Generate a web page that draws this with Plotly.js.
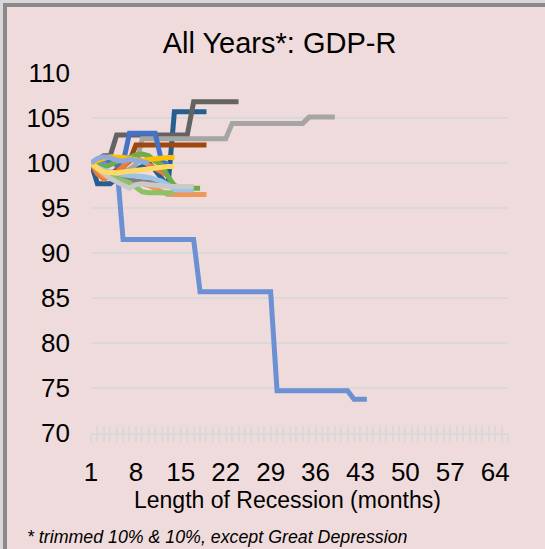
<!DOCTYPE html>
<html>
<head>
<meta charset="utf-8">
<script src="https://cdn.plot.ly/plotly-3.0.1.min.js"></script>
<style>
  html, body { margin: 0; padding: 0; background: #d8d8d8; width: 545px; height: 549px; overflow: hidden; }
  #frame { position: absolute; left: 3px; top: 3px; width: 538px; height: 542px;
           border-left: 4px solid #8a8a8a; border-top: 4px solid #8a8a8a; background: #EFDBDB; }
  #chart { width: 538px; height: 542px; }
</style>
</head>
<body>
<div id="frame"><div id="chart"></div></div>
<script>
// ---- categories (months) ----
const months = [1,2,3,4,5,6,7,8,9,10,11,12,13,14,15,16,17,18,19,20,21,22,23,24,25,26,27,28,29,30,31,32,33,
  34,35,36,37,38,39,40,41,42,43,44,45,46,47,48,49,50,51,52,53,54,55,56,57,58,59,60,61,62,63,64,65,66];
const xTickLabels = [1,8,15,22,29,36,43,50,57,64];
const yTickLabels = [70,75,80,85,90,95,100,105,110];

// ---- series values (index 0 = month 1) ----
const darkBlue = [100,97.7,97.7,97.7,98.3,99,99.2,99.3,99.6,100,99.2,98.3,97.4,105.7,105.7,105.7,105.7,105.7,105.7];
const greatDepression = [100,100,100,100,100,
  91.5,91.5,91.5,91.5,91.5,91.5,91.5,91.5,91.5,91.5,91.5,91.5,
  85.7,85.7,85.7,85.7,85.7,85.7,85.7,85.7,85.7,85.7,85.7,85.7,
  74.7,74.7,74.7,74.7,74.7,74.7,74.7,74.7,74.7,74.7,74.7,74.7,
  73.75,73.75,73.75];
const darkGray = [100,100.4,100.8,100.8,103.1,103.1,103.1,103.1,103.1,103.1,103.1,103.1,103.1,103.1,103.1,103.1,
  106.8,106.8,106.8,106.8,106.8,106.8,106.8,106.8];
const lightGray = [100,99.5,99,98.8,98.8,99,99.3,99.8,
  102.7,102.7,102.7,102.7,102.7,102.7,102.7,102.7,102.7,102.7,102.7,102.7,102.7,102.7,
  104.4,104.4,104.4,104.4,104.4,104.4,104.4,104.4,104.4,104.4,104.4,104.4,
  105.1,105.1,105.1,105.1,105.1];
const brown = [100,99,98.6,98.8,99.2,99.6,100.2,102,102,102,102,102,102,102,102,102,102,102,102];
const blue = [100,100.3,100.5,100.2,99.8,100,103.3,103.3,103.3,103.3,103.3,100.2,99.8];
const orange = [100,98.8,98.2,98.5,99,99.6,100.3,100.6,100.2,99.7,99.3,98.9,98.6];
const lightOrange = [100,99.2,98.6,98.3,98.2,98,97.9,97.8,97.7,97.5,97.2,96.8,96.5,96.5,96.5,96.5,96.5,96.5,96.5];
const green = [100,99.7,99.5,99.8,100.2,100.5,100.6,100.9,101,100.8,100.2,99.8,98.5,97.5,97.3,97.2,97.2,97.2];
const lightGreen = [100,99.5,99,98.6,98.3,98,97.8,97.3,96.8,96.7,96.7,96.7,96.7,96.7];
const midGray = [100,99.6,99.2,98.8,98.5,98.3,98.1,98,97.9,97.9,97.9,98.1];
const lightBlue = [100,99.5,99.2,99,98.9,98.7,98.6,98.6,98.5,98.4,98.2,98,97.6,97.1,97,97,97];
const silver = [100,99.4,98.8,98.3,97.9,97.5,97.2,97.6,97.7,97.6,97.5,97.4,97.4,97.4,97.4,97.4,97.4];
const paleYellow = [100,99.4,99,98.9,98.9,99,99.1,99.2,99.3,99.4,99.5,99.6,99.6,99.6];
const yellow = [100,100.3,100.5,100.7,100.7,100.6,100.5,100.4,100.2,100.4,100.5,100.6,100.6,100.6];
const paleBlue = [100,100.5,100.7,100.6,100.3,100.2,100.4,100.3,100.1,100];

const seriesList = [
  [darkBlue, '#255E91'],
  [greatDepression, '#6C90D4'],
  [darkGray, '#636363'],
  [lightGray, '#A5A5A5'],
  [brown, '#9E480E'],
  [blue, '#4472C4'],
  [orange, '#ED7D31'],
  [lightOrange, '#F1975A'],
  [midGray, '#7F7F7F'],
  [green, '#70AD47'],
  [lightGreen, '#8CC168'],
  [lightBlue, '#9DC3E6'],
  [silver, '#C9C9C9'],
  [paleYellow, '#FFD966'],
  [yellow, '#FFC000'],
  [paleBlue, '#8FAADC']
];

const traces = seriesList.map(([vals, col]) => ({
  type: 'scatter', mode: 'lines',
  x: months.slice(0, vals.length), y: vals,
  line: { color: col, width: 5 },
  hoverinfo: 'skip', showlegend: false
}));

const font = 'Arial, "Liberation Sans", sans-serif';
const grid = '#D9D9D9';

const layout = {
  width: 538, height: 542,
  margin: { l: 84, r: 37, t: 66, b: 116 },
  paper_bgcolor: '#EFDBDB', plot_bgcolor: '#EFDBDB',
  showlegend: false,
  title: { text: 'All Years*: GDP-R', font: { family: font, size: 29, color: '#000' },
           x: 0.5065, xref: 'container', xanchor: 'center', y: 0.934, yref: 'container', yanchor: 'middle' },
  xaxis: {
    range: [1, 66], tickmode: 'array', tickvals: xTickLabels, ticktext: xTickLabels.map(String),
    showgrid: false, zeroline: false,
    showline: true, linecolor: grid, linewidth: 2,
    ticks: 'outside', ticklen: 7, tickwidth: 2, tickcolor: grid,
    minor: { tickmode: 'linear', tick0: 1, dtick: 1, ticks: 'outside', ticklen: 7, tickwidth: 2, tickcolor: grid },
    tickfont: { family: font, size: 26, color: '#000' },
    ticklabelstandoff: 8
  },
  xaxis2: {
    range: [1, 66], overlaying: 'x', anchor: 'y', side: 'bottom',
    tickmode: 'linear', tick0: 1, dtick: 1, ticks: 'inside', ticklen: 7, tickwidth: 2, tickcolor: grid,
    showticklabels: false, showgrid: false, zeroline: false, showline: false
  },
  yaxis: {
    range: [70, 110], tickmode: 'array', tickvals: yTickLabels, ticktext: yTickLabels.map(String),
    showgrid: true, gridcolor: grid, gridwidth: 2, zeroline: false, showline: false,
    ticks: '', tickfont: { family: font, size: 26, color: '#000' },
    ticklabelstandoff: 20
  },
  annotations: [
    { text: 'Length of Recession (months)', xref: 'paper', yref: 'paper', x: 0.4724, y: -0.185,
      xanchor: 'center', yanchor: 'middle', showarrow: false,
      font: { family: font, size: 23, color: '#000' } },
    { text: '* trimmed 10% &amp; 10%, except Great Depression', xref: 'paper', yref: 'paper', x: -0.158, y: -0.289,
      xanchor: 'left', yanchor: 'middle', showarrow: false,
      font: { family: font, size: 17.8, color: '#000', style: 'italic' } }
  ]
};

// invisible anchor trace so the overlaid tick axis is drawn
traces.unshift({ type: 'scatter', mode: 'lines', x: [], y: [], xaxis: 'x2', yaxis: 'y', hoverinfo: 'skip', showlegend: false });

Plotly.newPlot('chart', traces, layout, { staticPlot: true, displayModeBar: false });
</script>
</body>
</html>
